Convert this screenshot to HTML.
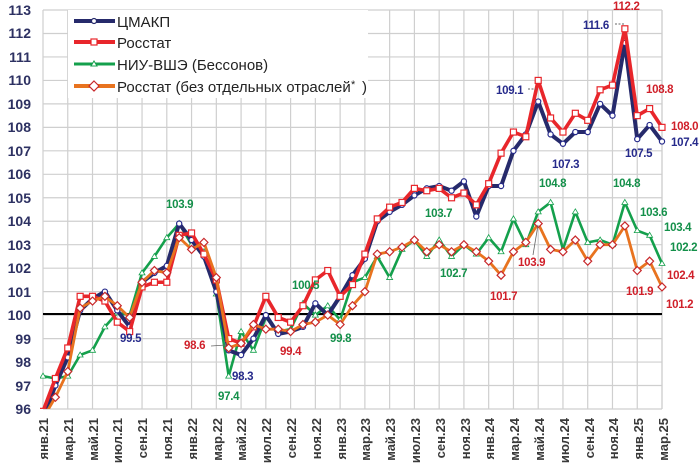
<!DOCTYPE html>
<html><head><meta charset="utf-8"><style>
html,body{margin:0;padding:0;background:#fff;width:700px;height:467px;overflow:hidden}
svg{display:block;font-family:"Liberation Sans",sans-serif}
.yt{font-size:14px;font-weight:bold;fill:#2d3162;text-anchor:end}
.xt{font-size:13px;font-weight:bold;fill:#3a3a3a;text-anchor:end}
.lb{font-size:11.5px;font-weight:bold;letter-spacing:-0.3px}
.lg{font-size:15px;fill:#222}
</style></head><body>
<svg id="s" width="700" height="467" viewBox="0 0 700 467">
<g id="grid"></g>
<line x1="43" y1="314" x2="662" y2="314" stroke="#000" stroke-width="2"/>
<g id="series"></g>
<g>
<text class="yt" x="31" y="15">113</text><text class="yt" x="31" y="38">112</text><text class="yt" x="31" y="62">111</text><text class="yt" x="31" y="85">110</text><text class="yt" x="31" y="109">109</text><text class="yt" x="31" y="132">108</text><text class="yt" x="31" y="156">107</text><text class="yt" x="31" y="179">106</text><text class="yt" x="31" y="203">105</text><text class="yt" x="31" y="226">104</text><text class="yt" x="31" y="250">103</text><text class="yt" x="31" y="273">102</text><text class="yt" x="31" y="297">101</text><text class="yt" x="31" y="320">100</text><text class="yt" x="31" y="344">99</text><text class="yt" x="31" y="367">98</text><text class="yt" x="31" y="391">97</text><text class="yt" x="31" y="414">96</text>
</g>
<g id="xl">
<text class="xt" transform="translate(48,418) rotate(-90)">янв.21</text>
<text class="xt" transform="translate(73,418) rotate(-90)">мар.21</text>
<text class="xt" transform="translate(98,418) rotate(-90)">май.21</text>
<text class="xt" transform="translate(122,418) rotate(-90)">июл.21</text>
<text class="xt" transform="translate(147,418) rotate(-90)">сен.21</text>
<text class="xt" transform="translate(172,418) rotate(-90)">ноя.21</text>
<text class="xt" transform="translate(197,418) rotate(-90)">янв.22</text>
<text class="xt" transform="translate(222,418) rotate(-90)">мар.22</text>
<text class="xt" transform="translate(246,418) rotate(-90)">май.22</text>
<text class="xt" transform="translate(271,418) rotate(-90)">июл.22</text>
<text class="xt" transform="translate(296,418) rotate(-90)">сен.22</text>
<text class="xt" transform="translate(321,418) rotate(-90)">ноя.22</text>
<text class="xt" transform="translate(346,418) rotate(-90)">янв.23</text>
<text class="xt" transform="translate(370,418) rotate(-90)">мар.23</text>
<text class="xt" transform="translate(395,418) rotate(-90)">май.23</text>
<text class="xt" transform="translate(420,418) rotate(-90)">июл.23</text>
<text class="xt" transform="translate(445,418) rotate(-90)">сен.23</text>
<text class="xt" transform="translate(470,418) rotate(-90)">ноя.23</text>
<text class="xt" transform="translate(494,418) rotate(-90)">янв.24</text>
<text class="xt" transform="translate(519,418) rotate(-90)">мар.24</text>
<text class="xt" transform="translate(544,418) rotate(-90)">май.24</text>
<text class="xt" transform="translate(569,418) rotate(-90)">июл.24</text>
<text class="xt" transform="translate(594,418) rotate(-90)">сен.24</text>
<text class="xt" transform="translate(618,418) rotate(-90)">ноя.24</text>
<text class="xt" transform="translate(643,418) rotate(-90)">янв.25</text>
<text class="xt" transform="translate(668,418) rotate(-90)">мар.25</text>
</g>
<rect x="68" y="10" width="300" height="88" fill="#fff"/>
<g>
<line x1="74" y1="21" x2="115" y2="21" stroke="#262a6b" stroke-width="4"/><circle cx="94" cy="21" r="2.5" fill="#fff" stroke="#262a6b" stroke-width="1.2"/>
<line x1="74" y1="42" x2="115" y2="42" stroke="#e8262b" stroke-width="4"/><rect x="91" y="39" width="6" height="6" fill="#fff" stroke="#e8262b" stroke-width="1.2"/>
<line x1="74" y1="64" x2="115" y2="64" stroke="#14a04c" stroke-width="3"/><path d="M94 61 L97 66 L91 66Z" fill="#fff" stroke="#14a04c"/>
<line x1="74" y1="86" x2="115" y2="86" stroke="#e8731f" stroke-width="4"/><path d="M94 81 L99 86 L94 91 L89 86Z" fill="#fff" stroke="#c8282b" stroke-width="1.2"/>
<text class="lg" x="117" y="27">ЦМАКП</text>
<text class="lg" x="117" y="48">Росстат</text>
<text class="lg" x="117" y="70">НИУ-ВШЭ (Бессонов)</text>
<text class="lg" x="117" y="92">Росстат (без отдельных отраслей</text>
<text class="lg" x="351" y="88" style="font-size:11px">*</text><text class="lg" x="362" y="92">)</text>
</g>
<g>
<text class="lb" fill="#14904a" x="166" y="208">103.9</text>
<text class="lb" fill="#262a8b" x="120" y="342">99.5</text>
<text class="lb" fill="#d0202a" x="184" y="349">98.6</text>
<line x1="211" y1="346" x2="226" y2="345" stroke="#666" stroke-width="0.8"/>
<text class="lb" fill="#262a8b" x="232" y="380">98.3</text>
<text class="lb" fill="#14904a" x="218" y="400">97.4</text>
<text class="lb" fill="#d0202a" x="280" y="355">99.4</text>
<text class="lb" fill="#14904a" x="292" y="289">100.5</text>
<text class="lb" fill="#14904a" x="330" y="342">99.8</text>
<text class="lb" fill="#14904a" x="425" y="217">103.7</text>
<text class="lb" fill="#14904a" x="440" y="277">102.7</text>
<text class="lb" fill="#d0202a" x="490" y="300">101.7</text>
<text class="lb" fill="#d0202a" x="518" y="266">103.9</text>
<line x1="533" y1="255" x2="538" y2="225" stroke="#666" stroke-width="0.8"/>
<text class="lb" fill="#14904a" x="539" y="187">104.8</text>
<text class="lb" fill="#14904a" x="613" y="187">104.8</text>
<text class="lb" fill="#14904a" x="640" y="216">103.6</text>
<text class="lb" fill="#14904a" x="664" y="231">103.4</text>
<text class="lb" fill="#14904a" x="670" y="251">102.2</text>
<text class="lb" fill="#d0202a" x="667" y="279">102.4</text>
<text class="lb" fill="#d0202a" x="626" y="295">101.9</text>
<text class="lb" fill="#d0202a" x="666" y="308">101.2</text>
<text class="lb" fill="#262a8b" x="496" y="94">109.1</text>
<line x1="528" y1="89" x2="536" y2="89" stroke="#666" stroke-dasharray="2,1.5" stroke-width="1"/>
<text class="lb" fill="#262a8b" x="552" y="168">107.3</text>
<text class="lb" fill="#262a8b" x="625" y="157">107.5</text>
<text class="lb" fill="#262a8b" x="583" y="29">111.6</text>
<line x1="615" y1="24" x2="625" y2="24" stroke="#666" stroke-dasharray="2,1.5" stroke-width="1"/>
<text class="lb" fill="#d0202a" x="613" y="10">112.2</text>
<text class="lb" fill="#d0202a" x="646" y="93">108.8</text>
<text class="lb" fill="#d0202a" x="671" y="130">108.0</text>
<text class="lb" fill="#262a8b" x="671" y="146">107.4</text>
</g>
</svg>
<script>
var NS="http://www.w3.org/2000/svg";
function X(i){return 43+12.38*i}
function Y(v){return 409-(v-96)*23.47}
var g=document.getElementById("grid");
function el(p,t,a){var e=document.createElementNS(NS,t);for(var k in a)e.setAttribute(k,a[k]);p.appendChild(e);return e}
for(var v=96;v<=113;v++)el(g,"line",{x1:43,x2:662,y1:Y(v),y2:Y(v),stroke:"#cfcfcf","stroke-width":1.2});
for(var i=0;i<=50;i+=2)el(g,"line",{x1:X(i),x2:X(i),y1:10,y2:409,stroke:"#cfcfcf","stroke-width":1.2});
el(g,"line",{x1:662,x2:662,y1:10,y2:409,stroke:"#cfcfcf","stroke-width":1.2});
var navy=[95.6,97.0,98.2,100.2,100.7,101.0,100.2,99.5,101.4,101.8,102.1,103.9,103.2,102.5,101.0,98.5,98.3,99.0,100.0,99.2,99.3,99.5,100.5,100.0,100.8,101.7,102.4,104.0,104.4,104.7,105.1,105.4,105.5,105.3,105.7,104.2,105.5,105.5,107.0,107.7,109.1,107.7,107.3,107.8,107.8,109.0,108.5,111.6,107.5,108.1,107.4];
var red=[95.9,97.3,98.6,100.8,100.8,100.6,99.7,99.3,101.2,101.4,101.4,103.4,103.5,102.6,101.5,99.0,98.8,99.5,100.8,99.9,99.7,100.4,101.5,101.9,100.8,101.3,102.6,104.1,104.6,104.8,105.4,105.3,105.4,105.0,105.2,104.7,105.6,106.9,107.8,107.6,110.0,108.4,107.8,108.6,108.3,109.6,109.8,112.2,108.5,108.8,108.0];
var green=[97.4,97.3,97.4,98.3,98.5,99.5,100.1,100.0,101.8,102.5,103.3,103.9,103.0,102.7,100.9,97.4,99.3,98.5,99.9,99.3,99.4,100.5,100.0,100.4,99.8,101.4,101.6,102.5,101.6,102.8,103.2,102.5,103.2,102.5,103.0,102.6,103.3,102.7,104.1,103.0,104.4,104.8,102.8,104.4,103.1,103.2,103.0,104.8,103.6,103.4,102.2];
var orange=[95.6,96.5,97.6,100.3,100.6,100.8,100.4,99.9,101.4,101.9,101.8,103.3,102.8,103.1,101.6,98.6,98.8,99.6,99.4,99.4,99.3,99.6,99.7,100.0,99.6,100.4,101.0,102.6,102.7,102.9,103.2,102.7,103.0,102.7,103.0,102.7,102.3,101.7,102.7,103.1,103.9,102.8,102.7,103.2,102.3,103.0,103.0,103.8,101.9,102.3,101.2];
var S=document.getElementById("series");
var cp=el(S,"clipPath",{id:"c"});el(cp,"rect",{x:40,y:0,width:640,height:409});
function draw(d,col,w,mk,mcol){
 var gg=el(S,"g",{"clip-path":"url(#c)"});
 el(gg,"polyline",{points:d.map(function(v,i){return X(i)+","+Y(v)}).join(" "),fill:"none",stroke:col,"stroke-width":w,"stroke-linejoin":"round"});
 d.forEach(function(v,i){var x=X(i),y=Y(v);
  if(mk=="c")el(gg,"circle",{cx:x,cy:y,r:2.6,fill:"#fff",stroke:mcol,"stroke-width":1.2});
  if(mk=="s")el(gg,"rect",{x:x-3,y:y-3,width:6,height:6,fill:"#fff",stroke:mcol,"stroke-width":1.2});
  if(mk=="t")el(gg,"path",{d:"M"+x+" "+(y-3)+" L"+(x+3)+" "+(y+2)+" L"+(x-3)+" "+(y+2)+"Z",fill:"#fff",stroke:mcol,"stroke-width":0.8});
  if(mk=="d")el(gg,"path",{d:"M"+x+" "+(y-4)+" L"+(x+4)+" "+y+" L"+x+" "+(y+4)+" L"+(x-4)+" "+y+"Z",fill:"#fff",stroke:mcol,"stroke-width":1.2});
 });
}
draw(green,"#14a04c",2.6,"t","#14a04c");
draw(navy,"#262a6b",4,"c","#262a8b");
draw(red,"#e8262b",3.6,"s","#e8262b");
draw(orange,"#e8731f",2.8,"d","#c8282b");
</script>
</body></html>
